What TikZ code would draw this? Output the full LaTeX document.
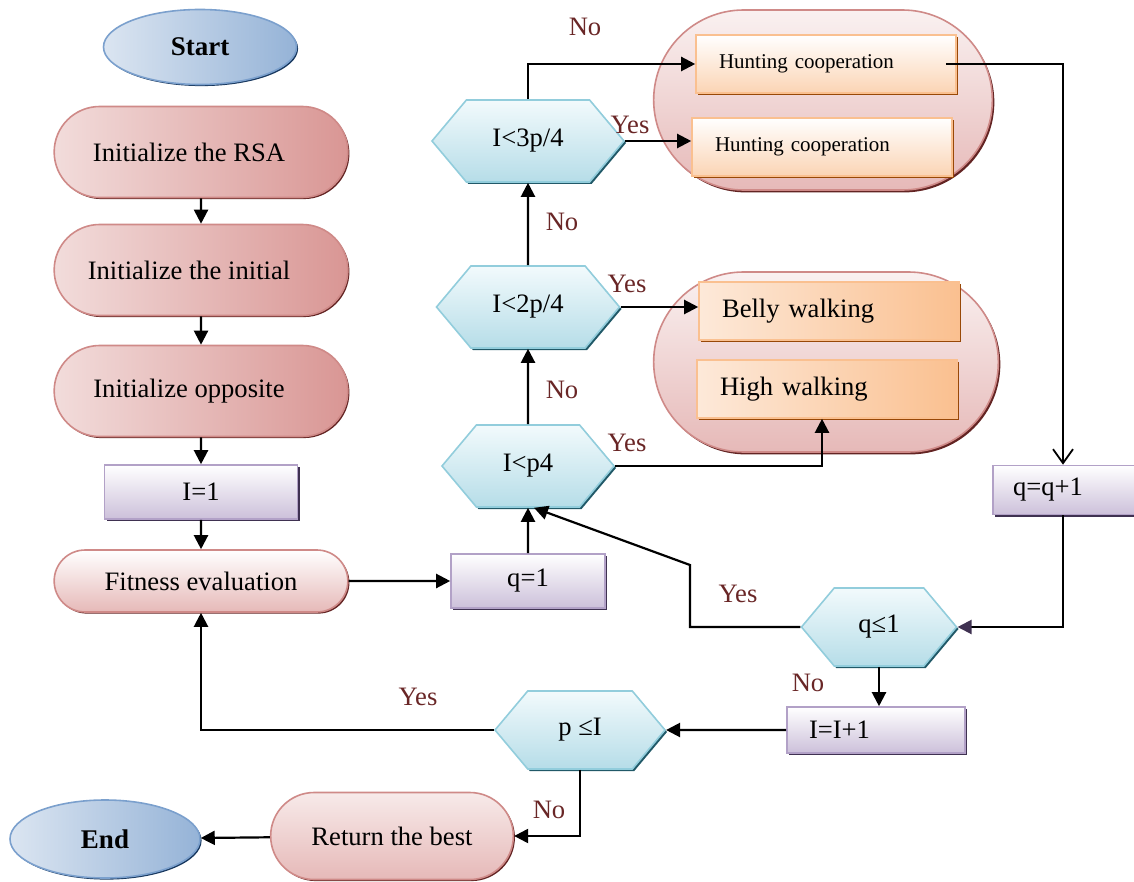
\documentclass[tikz,border=0pt]{standalone}
\usepackage{fontspec}
\setmainfont{Liberation Serif}
\usepackage{tikz}
\usetikzlibrary{positioning,shapes.misc,shapes.symbols,shapes.geometric,shadows,arrows.meta}
\definecolor{pinkl}{HTML}{F2DCDB}
\definecolor{pinkr}{HTML}{D99694}
\definecolor{pinkb}{HTML}{E6B9B8}
\definecolor{pinkline}{HTML}{CF8A88}
\definecolor{pinksh}{HTML}{632423}
\definecolor{hexl}{HTML}{F2FAFC}
\definecolor{hexd}{HTML}{B6DDE8}
\definecolor{hexline}{HTML}{92CDDC}
\definecolor{hexsh}{HTML}{215968}
\definecolor{lavd}{HTML}{CCC0DA}
\definecolor{lavline}{HTML}{B2A1C7}
\definecolor{lavsh}{HTML}{3F3151}
\definecolor{orl}{HTML}{FDE9D9}
\definecolor{ord}{HTML}{FAC090}
\definecolor{orb}{HTML}{FBD4B4}
\definecolor{orsh}{HTML}{984807}
\definecolor{bluel}{HTML}{DBE5F1}
\definecolor{bluer}{HTML}{95B3D7}
\definecolor{blueline}{HTML}{7BA0CD}
\definecolor{bluesh}{HTML}{17375E}
\definecolor{labred}{RGB}{105,38,38}
\pgfkeys{tikz/termnode/.style={ellipse,draw=blueline,line width=0.8pt,left color=bluel,right color=bluer,minimum width=96.5pt,minimum height=37.5pt,font=\fontsize{13.5}{15}\selectfont\bfseries,drop shadow={shadow xshift=0.8pt,shadow yshift=-0.8pt,fill=bluesh,opacity=1}}}
\pgfkeys{tikz/procnode/.style={rounded rectangle,draw=pinkline,line width=0.8pt,left color=pinkl,right color=pinkr,minimum width=153.5pt,minimum height=45.5pt,font=\fontsize{13.3}{15}\selectfont,drop shadow={shadow xshift=0.8pt,shadow yshift=-0.8pt,fill=pinksh,opacity=1}}}
\pgfkeys{tikz/setnode/.style={rectangle,draw=lavline,line width=0.8pt,top color=white,bottom color=lavd,minimum height=27pt,font=\fontsize{13.3}{15}\selectfont,drop shadow={shadow xshift=1pt,shadow yshift=-1pt,fill=lavsh,opacity=1}}}
\pgfkeys{tikz/testnode/.style={signal,signal to=west and east,signal pointer angle=100,draw=hexline,line width=0.8pt,top color=hexl,bottom color=hexd,minimum height=41pt,inner sep=0pt,font=\fontsize{13.3}{15}\selectfont,drop shadow={shadow xshift=1pt,shadow yshift=-1pt,fill=hexsh,opacity=1}}}
\pgfkeys{tikz/groupnode/.style={rounded rectangle,draw=pinkline,line width=0.8pt,top color=white!60!pinkl,bottom color=pinkb,minimum height=90pt,drop shadow={shadow xshift=1pt,shadow yshift=-1.2pt,fill=pinksh,opacity=1}}}
\pgfkeys{tikz/movenode/.style={rectangle,draw=ord,line width=0.8pt,left color=orl,right color=ord,minimum height=29pt,text width=107pt,inner xsep=11.5pt,align=left,font=\fontsize{13.3}{15}\selectfont,drop shadow={shadow xshift=1pt,shadow yshift=-1pt,fill=orsh,opacity=1}}}
\pgfkeys{tikz/huntnode/.style={movenode,top color=white,bottom color=orb,font=\fontsize{10.5}{12}\selectfont}}
\pgfkeys{tikz/lab/.style={text=labred,font=\fontsize{13.3}{15}\selectfont}}

\begin{document}
\begin{tikzpicture}[x=0.5pt,y=-0.5pt,>={Triangle[length=7pt,width=7pt]},line width=1.1pt]
\useasboundingbox (0,0) rectangle (1134,882);
% left column
\node[termnode] (n0) at (200,47) {Start};
\node[procnode,execute at end node=\hspace{12pt}] (n1) at (201,152) {Initialize the RSA};
\node[procnode,execute at end node=\hspace{12pt}] (n2) at (201,270) {Initialize the initial};
\node[procnode,execute at end node=\hspace{12pt}] (n3) at (201,391) {Initialize opposite};
\node[setnode,minimum width=96.5pt] (n4) at (201,492) {I=1};
\node[procnode,top color=white,bottom color=pinkb,minimum height=31pt] (n5) at (201,581) {Fitness evaluation};
\node[setnode,minimum width=77pt] (n6) at (528,581) {q=1};
% tests
\node[testnode,minimum width=86pt] (n7) at (528,466) {I<p4};
\node[testnode,minimum width=91.5pt] (n8) at (528,307) {I<2p/4};
\node[testnode,minimum width=96pt] (n9) at (528,141) {I<3p/4};
% groups
\node[groupnode,minimum width=176pt] (g1) at (823,100) {};
\node[groupnode,minimum width=179pt] (g2) at (826,362) {};
\node[huntnode] (n11) at (826,64) {Hunting cooperation};
\node[huntnode] (n12) at (822,147) {Hunting cooperation};
\node[movenode] (n13) at (829,311) {Belly walking};
\node[movenode] (n14) at (827,389) {High walking};
% right side
\node[setnode,minimum height=24.5pt,text width=60pt,inner xsep=10pt,align=left] (n15) at (1073,490) {q=q+1};
\node[testnode,minimum width=77.5pt,minimum height=39pt] (n16) at (879,627) {q≤1};
\node[setnode,minimum height=23pt,text width=67pt,inner xsep=11pt,align=left] (n17) at (876,730) {I=I+1};
\node[testnode,minimum width=85pt,minimum height=39pt] (n18) at (580,730) {p ≤I};
\node[procnode,top color=pinkl!60!white,bottom color=pinkb,minimum width=128pt,minimum height=43.5pt] (n19) at (392,836) {Return the best};
\node[termnode,minimum width=95pt,minimum height=39pt] (n20) at (105,839) {End};
\coordinate (b1) at (690,565);
% yes / no
\node[lab] (l1) at (585,27) {No};
\node[lab] (l2) at (630,125) {Yes};
\node[lab] (l3) at (562,222) {No};
\node[lab] (l4) at (627,284) {Yes};
\node[lab] (l5) at (562,390) {No};
\node[lab] (l6) at (627,443) {Yes};
\node[lab] (l7) at (738,594) {Yes};
\node[lab] (l8) at (808,683) {No};
\node[lab] (l9) at (418,697) {Yes};
\node[lab] (l10) at (549,810) {No};

\draw[->] (n1) -- (n2);
\draw[->] (n2) -- (n3);
\draw[->] (n3) -- (n4);
\draw[->] (n4) -- (n5);
\draw[->] (n5) -- (n6);
\draw[->] (n6) -- (n7);
\draw[->] (n7) -- (n8);
\draw[->] (n8) -- (n9);
\draw[->] (n9.north) |- (n11.west);
\draw[->] (n9.east) -- (n9.east -| n12.west);
\draw[->] (n8.east) -- (n8.east -| n13.west);
\draw[->] (n7.east) -| ([xshift=-2.5pt]n14.south);
\draw[-{Straight Barb[length=7pt,width=10pt]},line width=0.9pt] ([xshift=-5.5pt]n11.east) -| ([xshift=-5pt]n15.north);
\draw[-{Triangle[length=7pt,width=7pt,color=lavsh]}] ([xshift=-5pt]n15.south) |- (n16.east);
\draw[->] (n16.west) -| (b1) -- ([xshift=3pt]n7.south);
\draw[->] (n16.south) -- (n16.south |- n17.north);
\draw[->] (n17) -- (n18);
\draw[->] (n18.west) -| (n5.south);
\draw[->] (n18.south) |- (n19.east);
\draw[->] (n19) -- (n20);
\end{tikzpicture}
\end{document}
